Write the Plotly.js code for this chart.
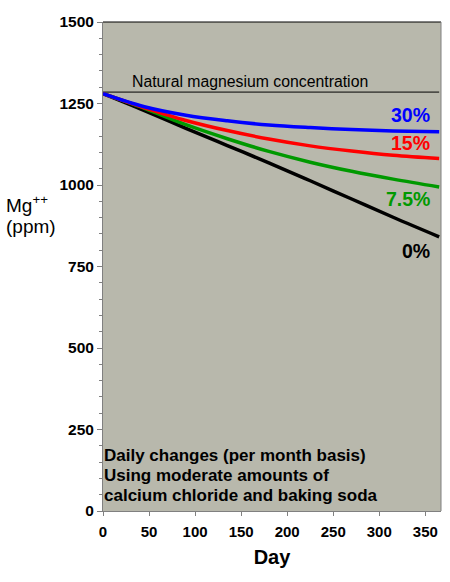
<!DOCTYPE html>
<html>
<head>
<meta charset="utf-8">
<script src="https://cdn.plot.ly/plotly-3.0.1.min.js"></script>
<style>html,body{margin:0;padding:0;background:#fff;}#chart{width:450px;height:582px;}</style>
</head>
<body>
<div id="chart"></div>
<script>
// Data
const days = [0, 45, 90, 135, 180, 225, 270, 315, 365];
const mg30 = [1280, 1240, 1214, 1197, 1184, 1176, 1170, 1166, 1163];
const mg15 = [1280, 1237, 1198, 1167, 1141, 1120, 1104, 1091, 1081];
const mg75 = [1280, 1235, 1185, 1142, 1103, 1070, 1042, 1018, 994];
const mg0  = [1280, 1228, 1174, 1121, 1068, 1013, 957, 901, 841];
const naturalDays = [0, 365];
const naturalMg = [1285, 1285];
const seriesNames = ["30%", "15%", "7.5%", "0%"];
const seriesColors = ["#0000ff", "#ff0000", "#009900", "#000000"];
const labelY = [1215, 1129, 957, 798];
const yTickVals = [0, 250, 500, 750, 1000, 1250, 1500];
const xTickVals = [0, 50, 100, 150, 200, 250, 300, 350];
const noteLines = ["Daily changes (per month basis)", "Using moderate amounts of", "calcium chloride and baking soda"];

const F = "Arial, 'Liberation Sans', sans-serif";
const seriesY = [mg30, mg15, mg75, mg0];

const L = 103, R = 9, T = 22, B = 71, W = 450, H = 582;
const ph = H - T - B, pw = W - L - R;
const px2x = p => (p - L) / pw;
const py2y = p => (H - B - p) / ph;

const traces = [{
  x: naturalDays, y: naturalMg, mode: "lines", line: {color: "#000", width: 1},
  hoverinfo: "skip", showlegend: false
}];
[3, 2, 1, 0].forEach(i => {
  traces.push({
    x: days, y: seriesY[i], mode: "lines", name: seriesNames[i],
    line: {color: seriesColors[i], width: 3.5, shape: "spline", smoothing: 1},
    showlegend: false
  });
});

const annotations = seriesNames.map((n, i) => ({
  x: 357, y: labelY[i], xref: "x", yref: "y", text: n, showarrow: false,
  xanchor: "right", yanchor: "middle",
  font: {family: F, size: 19.5, color: seriesColors[i], weight: "bold"}
}));
annotations.push({
  x: 29, y: naturalMg[0], xref: "x", yref: "y", yanchor: "bottom", xanchor: "left",
  yshift: 0, text: "Natural magnesium concentration", showarrow: false,
  font: {family: F, size: 15.8, color: "#000"}
});
noteLines.forEach((t, i) => {
  annotations.push({
    x: px2x(102), y: py2y(455 + 20 * i), xref: "paper", yref: "paper",
    xanchor: "left", yanchor: "middle", showarrow: false, text: t,
    font: {family: F, size: 17, color: "#000", weight: "bold"}
  });
});
annotations.push({
  x: px2x(4), y: py2y(204), xref: "paper", yref: "paper", xanchor: "left", yanchor: "middle",
  showarrow: false, text: "Mg<sup>++</sup>", font: {family: F, size: 19, color: "#000"}
});
annotations.push({
  x: px2x(4), y: py2y(226), xref: "paper", yref: "paper", xanchor: "left", yanchor: "middle",
  showarrow: false, text: "(ppm)", font: {family: F, size: 19, color: "#000"}
});

const layout = {
  width: W, height: H,
  margin: {l: L, r: R, t: T, b: B, pad: 0},
  paper_bgcolor: "#ffffff",
  plot_bgcolor: "#b8b8ac",
  showlegend: false,
  font: {family: F, color: "#000"},
  xaxis: {
    range: [0, 367], tickvals: xTickVals, ticktext: xTickVals.map(String),
    ticks: "outside", ticklen: 4, tickcolor: "#808080", ticklabelstandoff: 3,
    showline: true, linecolor: "#808080", linewidth: 1,
    showgrid: false, zeroline: false, fixedrange: true,
    tickfont: {family: F, size: 15, weight: "bold"},
    title: {text: "Day", font: {family: F, size: 20, weight: "bold"}, standoff: 10},
    automargin: false
  },
  yaxis: {
    range: [0, 1500], tickvals: yTickVals, ticktext: yTickVals.map(String),
    ticks: "outside", ticklen: 5, tickcolor: "#808080",
    minor: {dtick: 50, tick0: 0, ticks: "outside", ticklen: 3, tickcolor: "#808080", showgrid: false},
    showline: true, linecolor: "#808080", linewidth: 1,
    showgrid: false, zeroline: false, fixedrange: true,
    tickfont: {family: F, size: 15.5, weight: "bold"},
    automargin: false
  },
  shapes: [
    {type: "line", xref: "paper", yref: "paper", x0: 0, x1: 1, y0: 1, y1: 1, line: {color: "#000", width: 1}},
    {type: "line", xref: "paper", yref: "paper", x0: 1, x1: 1, y0: 0, y1: 1, line: {color: "#808080", width: 1}}
  ],
  annotations: annotations
};

Plotly.newPlot("chart", traces, layout, {staticPlot: true, displayModeBar: false});
</script>
</body>
</html>
